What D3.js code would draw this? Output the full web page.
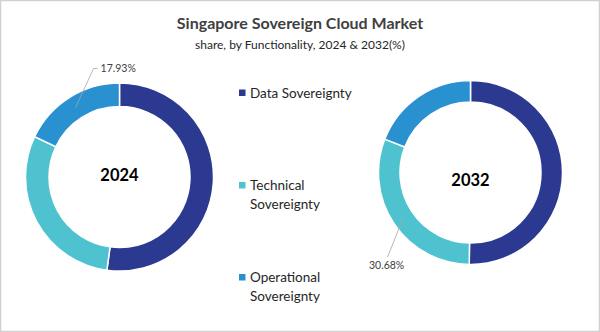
<!DOCTYPE html>
<html>
<head>
<meta charset="utf-8">
<script src="https://cdn.jsdelivr.net/npm/d3@7"></script>
<style>
  html, body { margin: 0; padding: 0; background: #fff; }
  svg { display: block; font-family: Lato, "Open Sans", sans-serif; }
</style>
</head>
<body>
<svg id="chart" width="600" height="332"></svg>
<script>
// Market share by functionality (%)
const categories = ["Data Sovereignty", "Technical Sovereignty", "Operational Sovereignty"];
const years = ["2024", "2032"];
const share2024 = [52.14, 29.93, 17.93];
const share2032 = [50.22, 30.68, 19.10];
const colors = ["#2B3990", "#4EC3CF", "#2A91D0"];
// which slice carries a value label in each donut
const labelledSlice = [2, 1];

const svg = d3.select("#chart");
const W = 600, H = 332;

// frame
svg.append("rect")
  .attr("x", 0.5).attr("y", 0.5)
  .attr("width", W - 1).attr("height", H - 1)
  .attr("fill", "#fff").attr("stroke", "#d0d0d0").attr("stroke-width", 1.5);

// titles
svg.append("text")
  .attr("x", 300).attr("y", 29)
  .attr("text-anchor", "middle")
  .attr("font-size", 16).attr("font-weight", 700)
  .attr("fill", "#404040")
  .text("Singapore  Sovereign Cloud Market");
svg.append("text")
  .attr("x", 300).attr("y", 49)
  .attr("text-anchor", "middle")
  .attr("font-size", 12)
  .attr("fill", "#262626")
  .text("share, by Functionality, 2024 & 2032(%)");

const color = d3.scaleOrdinal().domain(categories).range(colors);
const pie = d3.pie().sort(null).value(d => d.value);

const donuts = [
  { year: years[0], values: share2024, cx: 119.5, cy: 177, outer: 94, inner: 70.5, yearDy: -2 },
  { year: years[1], values: share2032, cx: 470.5, cy: 172.5, outer: 92, inner: 70.5, yearDy: 7 }
];

donuts.forEach((dn, i) => {
  const rows = categories.map((c, k) => ({ cat: c, value: dn.values[k] }));
  const arcs = pie(rows);
  const arc = d3.arc().innerRadius(dn.inner).outerRadius(dn.outer);
  const mid = d3.arc().innerRadius((dn.inner + dn.outer) / 2).outerRadius((dn.inner + dn.outer) / 2);

  const g = svg.append("g").attr("transform", `translate(${dn.cx},${dn.cy})`);
  g.selectAll("path")
    .data(arcs)
    .join("path")
    .attr("d", arc)
    .attr("fill", d => color(d.data.cat))
    .attr("stroke", "#fff")
    .attr("stroke-width", 1.5);

  g.append("text")
    .attr("x", 0).attr("y", dn.yearDy)
    .attr("text-anchor", "middle")
    .attr("dominant-baseline", "central")
    .attr("font-size", 16.5).attr("font-weight", 700)
    .attr("fill", "#000")
    .text(dn.year);

  // value label with leader line
  const a = arcs[labelledSlice[i]];
  const [px, py] = mid.centroid(a);
  const label = d3.format(".2f")(a.data.value) + "%";
  if (i === 0) {
    const ex = px + 18, ey = py - 39;
    g.append("polyline")
      .attr("points", `${px},${py} ${ex},${ey} ${ex + 4},${ey}`)
      .attr("fill", "none").attr("stroke", "#a6a6a6").attr("stroke-width", 0.8);
    g.append("text")
      .attr("x", ex + 7).attr("y", ey)
      .attr("dominant-baseline", "central")
      .attr("font-size", 10.5).attr("fill", "#404040")
      .text(label);
  } else {
    const ex = px - 15.5, ey = py + 39;
    g.append("line")
      .attr("x1", px).attr("y1", py).attr("x2", ex).attr("y2", ey)
      .attr("stroke", "#a6a6a6").attr("stroke-width", 0.8);
    g.append("text")
      .attr("x", ex - 1).attr("y", ey + 8)
      .attr("text-anchor", "middle")
      .attr("dominant-baseline", "central")
      .attr("font-size", 10.5).attr("fill", "#404040")
      .text(label);
  }
});

// legend
const legendRows = [
  { lines: ["Data Sovereignty"], y: 92.5 },
  { lines: ["Technical", "Sovereignty"], y: 185 },
  { lines: ["Operational", "Sovereignty"], y: 277 }
];
const legend = svg.append("g");
legendRows.forEach((r, k) => {
  legend.append("rect")
    .attr("x", 239).attr("y", r.y - 3)
    .attr("width", 6.5).attr("height", 6.5)
    .attr("fill", color(categories[k]));
  const t = legend.append("text")
    .attr("x", 250).attr("y", r.y)
    .attr("font-size", 13.5).attr("fill", "#262626")
    .attr("dominant-baseline", "central");
  r.lines.forEach((ln, j) => {
    t.append("tspan").attr("x", 250).attr("dy", j === 0 ? 0 : 18.5).text(ln);
  });
});
</script>
</body>
</html>
